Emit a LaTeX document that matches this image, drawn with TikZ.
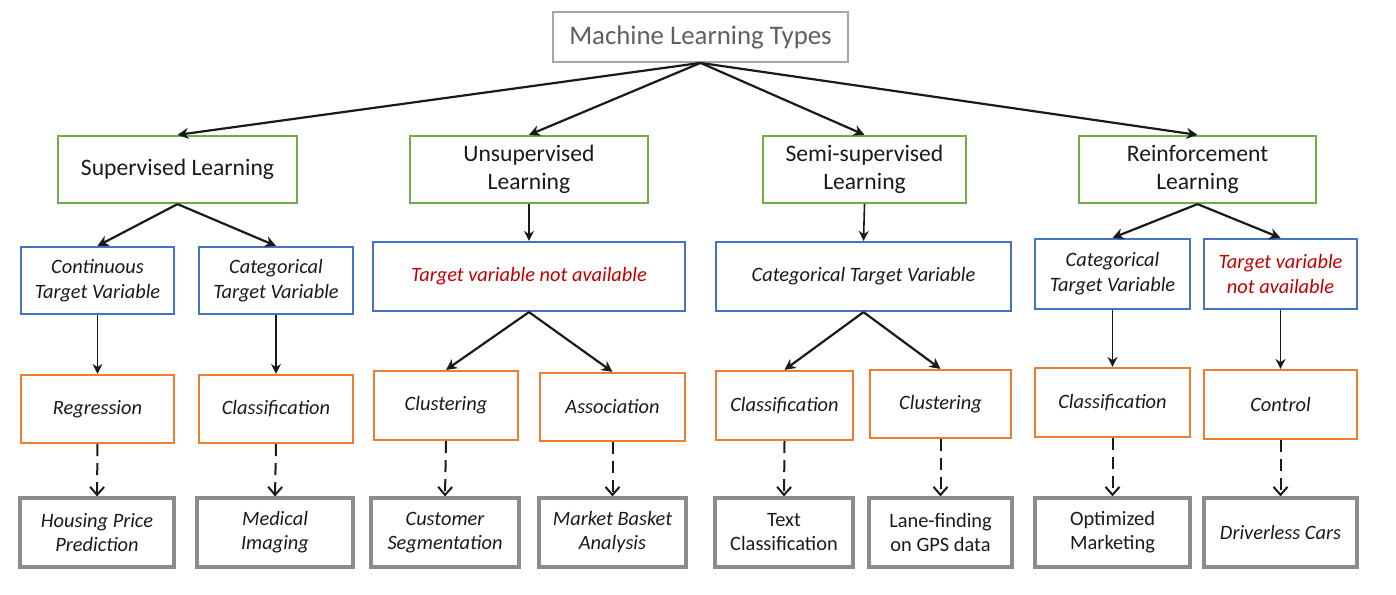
\documentclass[tikz,border=0pt]{standalone}
\usepackage{fontspec}
\setmainfont{Carlito}
\usetikzlibrary{arrows.meta}
\definecolor{cgreen}{HTML}{70AD47}
\definecolor{cblue}{HTML}{4472C4}
\definecolor{corange}{HTML}{ED7D31}
\definecolor{cgray}{HTML}{8C8C8C}
\definecolor{ctop}{HTML}{A6A6A6}
\definecolor{ctext}{HTML}{1A1A1A}
\definecolor{cred}{HTML}{C00000}
\tikzset{
  base/.style={draw, rectangle, align=center, inner sep=0pt, text=ctext},
  topbox/.style={base, draw=ctop, line width=0.9pt, text=ctext!70, font=\fontsize{13.4}{16}\selectfont},
  greenbox/.style={base, draw=cgreen, line width=1.1pt, font=\fontsize{11.8}{14}\selectfont},
  bluebox/.style={base, draw=cblue, line width=1.1pt, font=\fontsize{10.2}{12.5}\selectfont\itshape},
  orangebox/.style={base, draw=corange, line width=1.1pt, font=\fontsize{10.2}{12.5}\selectfont\itshape},
  graybox/.style={base, draw=cgray, line width=1.6pt, font=\fontsize{10.2}{12}\selectfont},
  solidarrow/.style={draw=ctext, line width=1.1pt, -{Stealth[length=5.5pt,width=5.5pt]}},
  thinarrow/.style={draw=ctext, line width=0.8pt, -{Stealth[length=5pt,width=5pt]}},
  dasharrow/.style={draw=ctext, line width=1pt, dash pattern=on 6pt off 3.5pt, -{Straight Barb[length=4pt,width=7pt]}},
  redtext/.style={text=cred}
}
\begin{document}
\begin{tikzpicture}[x=0.5pt,y=-0.5pt]
\useasboundingbox (0,0) rectangle (1396,594);
% level 0
\node[topbox, minimum width=147.5pt, minimum height=25pt] (top) at (700.5,37) {Machine Learning Types};
% level 1
\node[greenbox, minimum width=119.5pt, minimum height=33.5pt] (sup) at (177.5,169.5) {Supervised Learning};
\node[greenbox, minimum width=119pt, minimum height=33.5pt] (uns) at (529,169.5) {Unsupervised\\Learning};
\node[greenbox, minimum width=101.5pt, minimum height=33.5pt] (semi) at (864.5,169.5) {Semi-supervised\\Learning};
\node[greenbox, minimum width=118.5pt, minimum height=33.5pt] (rein) at (1197.5,169.5) {Reinforcement\\Learning};
% level 2
\node[bluebox, minimum width=76.5pt, minimum height=33.5pt] (cont) at (97.5,280.5) {Continuous\\Target Variable};
\node[bluebox, minimum width=77pt, minimum height=33.5pt] (cat) at (276,280.5) {Categorical\\Target Variable};
\node[bluebox, redtext, minimum width=156pt, minimum height=34.5pt] (unsT) at (529,276.5) {Target variable not available};
\node[bluebox, minimum width=147.5pt, minimum height=34.5pt] (semiT) at (863.5,276.5) {Categorical Target Variable};
\node[bluebox, minimum width=77.5pt, minimum height=35pt] (reinC) at (1112.5,274) {Categorical\\Target Variable};
\node[bluebox, redtext, minimum width=76.5pt, minimum height=35pt] (reinT) at (1280.5,274) {Target variable\\not available};
% level 3
\node[orangebox, minimum width=76.5pt, minimum height=34pt] (regr) at (97.5,409) {Regression};
\node[orangebox, minimum width=77pt, minimum height=34pt] (clsA) at (276,409) {Classification};
\node[orangebox, minimum width=72pt, minimum height=34.5pt] (cluA) at (446,405.5) {Clustering};
\node[orangebox, minimum width=72.5pt, minimum height=34pt] (asso) at (612.5,407) {Association};
\node[orangebox, minimum width=68.5pt, minimum height=34.5pt] (clsB) at (784.5,405.5) {Classification};
\node[orangebox, minimum width=70.5pt, minimum height=34pt] (cluB) at (940.5,404) {Clustering};
\node[orangebox, minimum width=77.5pt, minimum height=34.5pt] (clsC) at (1112.5,402.5) {Classification};
\node[orangebox, minimum width=76.5pt, minimum height=34.5pt] (ctrl) at (1280.5,404.5) {Control};
% level 4
\node[graybox, font=\fontsize{10.2}{12}\selectfont\itshape, minimum width=77pt, minimum height=34.5pt] (hous) at (97,532.5) {Housing Price\\Prediction};
\node[graybox, font=\fontsize{10.2}{12}\selectfont\itshape, minimum width=78pt, minimum height=34.5pt] (medi) at (275,532.5) {Medical\\Imaging};
\node[graybox, font=\fontsize{10.2}{12}\selectfont\itshape, minimum width=74pt, minimum height=34.5pt] (cust) at (445,532.5) {Customer\\Segmentation};
\node[graybox, font=\fontsize{10.2}{12}\selectfont\itshape, minimum width=73.5pt, minimum height=34.5pt] (mark) at (612.5,532.5) {Market Basket\\Analysis};
\node[graybox, minimum width=69pt, minimum height=34.5pt] (text) at (784,532.5) {Text\\Classification};
\node[graybox, minimum width=71.5pt, minimum height=34.5pt] (lane) at (940.5,532.5) {Lane-finding\\on GPS data};
\node[graybox, minimum width=77.5pt, minimum height=34.5pt] (opti) at (1112.5,532.5) {Optimized\\Marketing};
\node[graybox, font=\fontsize{10.2}{12}\selectfont\itshape, minimum width=76.5pt, minimum height=34.5pt] (driv) at (1280.5,532.5) {Driverless Cars};
% edges level 0->1
\draw[solidarrow] (top.south) -- (sup.north);
\draw[solidarrow] (top.south) -- (uns.north);
\draw[solidarrow] (top.south) -- (semi.north);
\draw[solidarrow] (top.south) -- (rein.north);
% level 1->2
\draw[solidarrow] (sup.south) -- (cont.north);
\draw[solidarrow] (sup.south) -- (cat.north);
\draw[thinarrow] (uns.south) -- (unsT.north);
\draw[thinarrow] (semi.south) -- (semiT.north);
\draw[solidarrow] (rein.south) -- (reinC.north);
\draw[solidarrow] (rein.south) -- (reinT.north);
% level 2->3
\draw[thinarrow] (cont.south) -- (regr.north);
\draw[thinarrow] (cat.south) -- (clsA.north);
\draw[solidarrow] (unsT.south) -- (cluA.north);
\draw[solidarrow] (unsT.south) -- (asso.north);
\draw[solidarrow] (semiT.south) -- (clsB.north);
\draw[solidarrow] (semiT.south) -- (cluB.north);
\draw[thinarrow] (reinC.south) -- (clsC.north);
\draw[thinarrow] (reinT.south) -- (ctrl.north);
% level 3->4
\draw[dasharrow] (regr.south) -- (hous.north);
\draw[dasharrow] (clsA.south) -- (medi.north);
\draw[dasharrow] (cluA.south) -- (cust.north);
\draw[dasharrow] (asso.south) -- (mark.north);
\draw[dasharrow] (clsB.south) -- (text.north);
\draw[dasharrow] (cluB.south) -- (lane.north);
\draw[dasharrow] (clsC.south) -- (opti.north);
\draw[dasharrow] (ctrl.south) -- (driv.north);
\end{tikzpicture}
\end{document}
